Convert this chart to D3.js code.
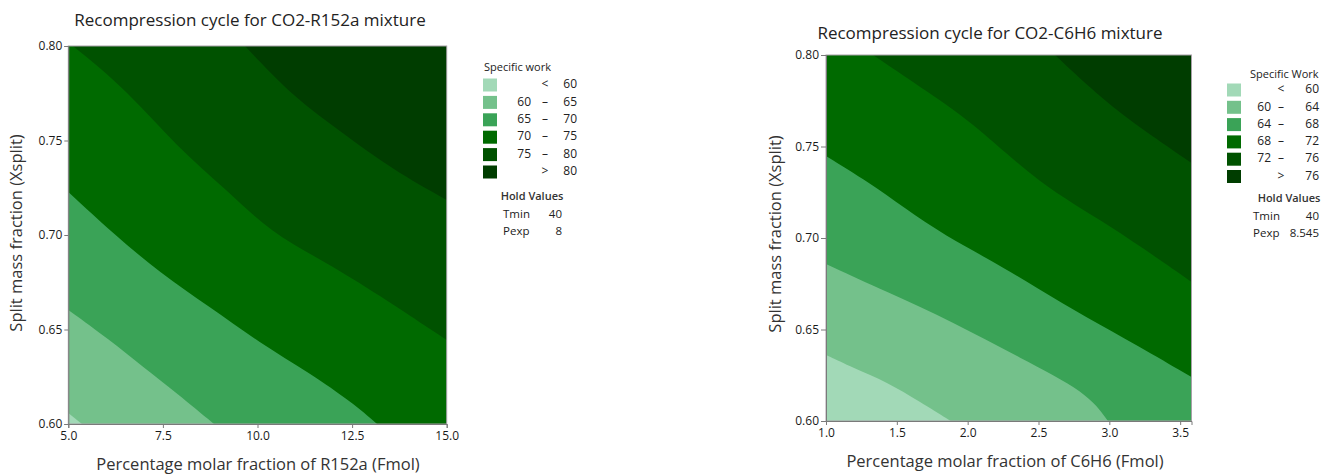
<!DOCTYPE html>
<html>
<head>
<meta charset="utf-8">
<script src="https://cdn.jsdelivr.net/npm/d3@7"></script>
<style>
  body { margin: 0; background: #fff; }
  svg text { font-family: "Open Sans", "Noto Sans", sans-serif; }
</style>
</head>
<body>
<svg id="chart" width="1331" height="475"></svg>
<script>
// ---- CO2-R152a panel ----
const r152aLevels = [60, 65, 70, 75, 80];
const r152aXDomain = [5, 15];
const r152aYDomain = [0.60, 0.80];
const r152aXTicks = [5.0, 7.5, 10.0, 12.5, 15.0];
const r152aYTicks = [0.60, 0.65, 0.70, 0.75, 0.80];
// contour lines, [Fmol, Xsplit]
const r152aLine60 = [[5, 0.6058], [5.36, 0.60]];
const r152aLine65 = [[5, 0.6603], [6.10, 0.6444], [6.98, 0.6300], [7.87, 0.6164], [8.85, 0.60]];
const r152aLine70 = [[5, 0.7228], [6.20, 0.7005], [7.43, 0.6799], [8.74, 0.6619], [10.06, 0.6429], [11.38, 0.6270], [12.52, 0.6111], [13.16, 0.60]];
const r152aLine75 = [[5.12, 0.80], [6.55, 0.7767], [7.87, 0.7466], [9.19, 0.7238], [10.33, 0.7016], [11.84, 0.6852], [13.16, 0.6690], [15, 0.6444]];
const r152aLine80 = [[9.67, 0.80], [10.94, 0.7730], [12.26, 0.7540], [13.58, 0.7344], [15, 0.7185]];
const r152aHold = [["Tmin", "40"], ["Pexp", "8"]];

// ---- CO2-C6H6 panel ----
const c6h6Levels = [60, 64, 68, 72, 76];
const c6h6XDomain = [1.0, 3.58];
const c6h6YDomain = [0.60, 0.80];
const c6h6XTicks = [1.0, 1.5, 2.0, 2.5, 3.0, 3.5];
const c6h6YTicks = [0.60, 0.65, 0.70, 0.75, 0.80];
const c6h6Line60 = [[1, 0.6361], [1.19, 0.6290], [1.431, 0.6213], [1.664, 0.6104], [1.88, 0.60]];
const c6h6Line64 = [[1, 0.6858], [1.431, 0.6705], [1.897, 0.6541], [2.37, 0.6344], [2.843, 0.6158], [2.99, 0.60]];
const c6h6Line68 = [[1, 0.7448], [1.31, 0.7300], [1.544, 0.7169], [1.855, 0.7005], [2.137, 0.6891], [2.49, 0.6727], [2.843, 0.6563], [3.196, 0.6415], [3.58, 0.6240]];
const c6h6Line72 = [[1.332, 0.80], [1.664, 0.7825], [2.017, 0.7645], [2.511, 0.7290], [2.984, 0.7082], [3.58, 0.6760]];
const c6h6Line76 = [[2.617, 0.80], [2.956, 0.7754], [3.239, 0.7590], [3.58, 0.7410]];
const c6h6Hold = [["Tmin", "40"], ["Pexp", "8.545"]];

// fill colours, lowest band first
const bandColors = ["#a2d9b7", "#74c18b", "#3aa357", "#006a00", "#005200", "#003d00"];

const svg = d3.select("#chart");

function drawPanel(cfg) {
  const x = d3.scaleLinear().domain(cfg.xDomain).range(cfg.xRange);
  const y = d3.scaleLinear().domain(cfg.yDomain).range(cfg.yRange);
  const g = svg.append("g");

  const clipId = "clip-" + cfg.id;
  g.append("clipPath").attr("id", clipId)
    .append("rect")
    .attr("x", x(cfg.xDomain[0])).attr("y", y(cfg.yDomain[1]))
    .attr("width", x(cfg.xDomain[1]) - x(cfg.xDomain[0]))
    .attr("height", y(cfg.yDomain[0]) - y(cfg.yDomain[1]));

  const plot = g.append("g").attr("clip-path", `url(#${clipId})`);

  // lowest band covers the whole area
  plot.append("rect")
    .attr("x", x(cfg.xDomain[0])).attr("y", y(cfg.yDomain[1]))
    .attr("width", x(cfg.xDomain[1]) - x(cfg.xDomain[0]))
    .attr("height", y(cfg.yDomain[0]) - y(cfg.yDomain[1]))
    .attr("fill", bandColors[0]);

  const line = d3.line().x(d => x(d[0])).y(d => y(d[1])).curve(d3.curveBasis);
  const [x0, x1] = cfg.xDomain, [y0, y1] = cfg.yDomain;
  const eps = 1e-6;

  // each band: area on the high side (upper right) of its contour line
  cfg.lines.forEach((pts, i) => {
    const start = pts[0], end = pts[pts.length - 1];
    const corners = [];
    if (Math.abs(end[1] - y0) < eps && end[0] < x1 - eps) corners.push([x1, y0]);
    corners.push([x1, y1]);
    if (Math.abs(start[0] - x0) < eps && start[1] < y1 - eps) corners.push([x0, y1]);
    const path = line(pts) + corners.map(p => `L${x(p[0])},${y(p[1])}`).join("") + "Z";
    plot.append("path").attr("d", path).attr("fill", bandColors[i + 1]);
  });

  // frame
  g.append("rect")
    .attr("x", x(x0)).attr("y", y(y1))
    .attr("width", x(x1) - x(x0)).attr("height", y(y0) - y(y1))
    .attr("fill", "none").attr("stroke", "#a8a0a8").attr("stroke-width", 1);

  // axes
  const ax = g.append("g").attr("transform", `translate(0,${y(y0)})`)
    .call(d3.axisBottom(x).tickValues(cfg.xTicks).tickFormat(d3.format(".1f")).tickSize(4).tickPadding(3));
  const ay = g.append("g").attr("transform", `translate(${x(x0)},0)`)
    .call(d3.axisLeft(y).tickValues(cfg.yTicks).tickFormat(d3.format(".2f")).tickSize(cfg.yTickSize).tickPadding(2));
  [ax, ay].forEach(a => {
    a.select(".domain").attr("stroke", "#7a7a7a");
    a.selectAll(".tick line").attr("stroke", "#7a7a7a");
    a.selectAll(".tick text").attr("font-size", 12).attr("fill", "#1a1a1a")
      .style("font-family", "'Open Sans', sans-serif");
  });

  // titles
  g.append("text").attr("x", cfg.titlePos[0]).attr("y", cfg.titlePos[1])
    .attr("text-anchor", "middle").attr("dominant-baseline", "middle")
    .attr("font-size", 17).attr("fill", "#222").text(cfg.title);
  g.append("text").attr("x", cfg.xLabelPos[0]).attr("y", cfg.xLabelPos[1])
    .attr("text-anchor", "middle").attr("dominant-baseline", "middle")
    .attr("font-size", 16.5).attr("fill", "#333").text(cfg.xLabel);
  g.append("text")
    .attr("transform", `translate(${cfg.yLabelPos[0]},${cfg.yLabelPos[1]}) rotate(-90)`)
    .attr("text-anchor", "middle").attr("dominant-baseline", "middle")
    .attr("font-size", 16.5).attr("fill", "#333").text("Split mass fraction (Xsplit)");

  // legend
  const L = cfg.legend;
  const lg = g.append("g").attr("font-size", 12).attr("fill", "#222");
  lg.append("text").attr("x", L.headX).attr("y", L.headY)
    .attr("dominant-baseline", "middle").attr("font-size", 11).text(L.head);
  const lv = cfg.levels;
  const rows = d3.range(lv.length + 1).map(i => ({
    low: (i === 0 || i === lv.length) ? "" : lv[i - 1],
    sym: i === 0 ? "<" : (i === lv.length ? ">" : "–"),
    high: i === lv.length ? lv[lv.length - 1] : lv[i],
    color: bandColors[i]
  }));
  rows.forEach((r, i) => {
    const cy = L.rowY0 + i * L.rowStep;
    lg.append("rect").attr("x", L.swX).attr("y", cy - 6.5).attr("width", 14).attr("height", 13)
      .attr("fill", r.color);
    lg.append("text").attr("x", L.lowX).attr("y", cy).attr("text-anchor", "end")
      .attr("dominant-baseline", "middle").text(r.low);
    lg.append("text").attr("x", L.symX).attr("y", cy).attr("text-anchor", "middle")
      .attr("dominant-baseline", "middle").text(r.sym);
    lg.append("text").attr("x", L.highX).attr("y", cy).attr("text-anchor", "end")
      .attr("dominant-baseline", "middle").text(r.high);
  });
  lg.append("text").attr("x", L.holdX).attr("y", L.holdY).attr("text-anchor", "middle")
    .attr("dominant-baseline", "middle").attr("font-size", 11).attr("font-weight", 600)
    .attr("fill", "#333").text("Hold Values");
  cfg.hold.forEach((h, i) => {
    const cy = L.holdY + 18 + i * 17;
    lg.append("text").attr("x", L.hNameX).attr("y", cy).attr("dominant-baseline", "middle")
      .attr("font-size", 11.5).text(h[0]);
    lg.append("text").attr("x", L.hValX).attr("y", cy).attr("text-anchor", "end")
      .attr("dominant-baseline", "middle").attr("font-size", 11.5).text(h[1]);
  });
}

drawPanel({
  id: "r152a",
  xDomain: r152aXDomain, yDomain: r152aYDomain,
  xRange: [68.3, 446.7], yRange: [424, 46],
  xTicks: r152aXTicks, yTicks: r152aYTicks, yTickSize: 4,
  lines: [r152aLine60, r152aLine65, r152aLine70, r152aLine75, r152aLine80],
  levels: r152aLevels, hold: r152aHold,
  title: "Recompression cycle for CO2-R152a mixture", titlePos: [250, 21],
  xLabel: "Percentage molar fraction of R152a (Fmol)", xLabelPos: [258, 466],
  yLabelPos: [18, 233],
  legend: { head: "Specific work", headX: 484, headY: 68, swX: 483, rowY0: 85, rowStep: 17.4,
            lowX: 531, symX: 545, highX: 577, holdX: 532, holdY: 197, hNameX: 503, hValX: 562 }
});

drawPanel({
  id: "c6h6",
  xDomain: c6h6XDomain, yDomain: c6h6YDomain,
  xRange: [826, 1191.5], yRange: [421, 55],
  xTicks: c6h6XTicks, yTicks: c6h6YTicks, yTickSize: 5,
  lines: [c6h6Line60, c6h6Line64, c6h6Line68, c6h6Line72, c6h6Line76],
  levels: c6h6Levels, hold: c6h6Hold,
  title: "Recompression cycle for CO2-C6H6 mixture", titlePos: [990, 34],
  xLabel: "Percentage molar fraction of C6H6 (Fmol)", xLabelPos: [1005, 463],
  yLabelPos: [777, 234],
  legend: { head: "Specific Work", headX: 1250, headY: 75, swX: 1227, rowY0: 90, rowStep: 17.3,
            lowX: 1271, symX: 1281, highX: 1319, holdX: 1289, holdY: 199, hNameX: 1253, hValX: 1319 }
});
</script>
</body>
</html>
